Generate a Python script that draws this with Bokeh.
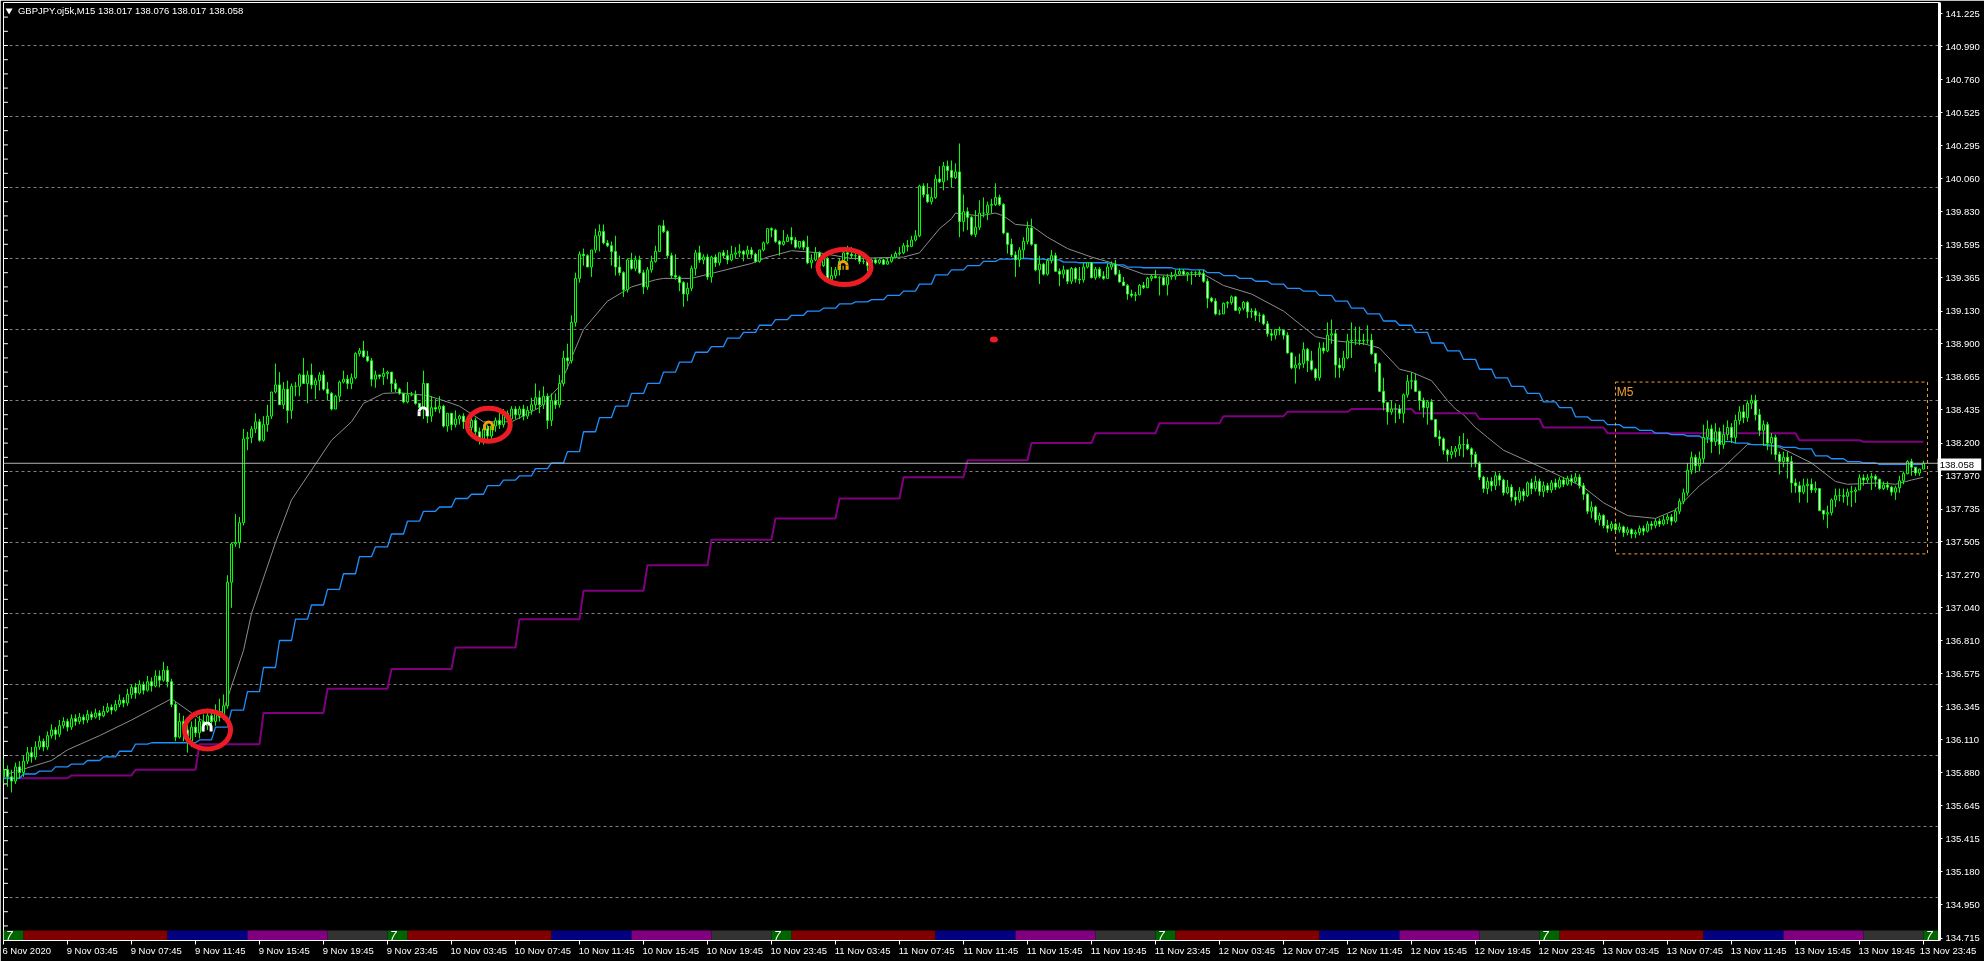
from bokeh.embed import file_html
from bokeh.resources import INLINE
from bokeh.layouts import column
from bokeh.plotting import figure
from bokeh.models import (ColumnDataSource, FixedTicker, Label, LinearAxis,
                          NumeralTickFormatter, Range1d, Span)
from bokeh.core.properties import value

closes = [
135.90,135.85,135.82,135.92,135.88,135.96,136.02,135.99,136.06,136.10,
136.06,136.14,136.18,136.15,136.21,136.24,136.20,136.26,136.24,136.27,
136.25,136.29,136.27,136.30,136.28,136.31,136.34,136.32,136.36,136.39,
136.37,136.43,136.48,136.44,136.50,136.46,136.52,136.49,136.56,136.53,
136.60,136.52,136.36,136.13,136.24,136.18,136.10,136.20,136.16,136.24,
136.21,136.28,136.24,136.31,136.27,136.35,137.22,137.49,137.50,137.64,
138.23,138.24,138.30,138.35,138.22,138.33,138.39,138.56,138.61,138.47,
138.58,138.43,138.60,138.60,138.68,138.62,138.68,138.61,138.64,138.68,
138.58,138.55,138.44,138.53,138.63,138.65,138.62,138.66,138.83,138.85,
138.81,138.78,138.65,138.68,138.67,138.69,138.70,138.62,138.58,138.55,
138.49,138.54,138.54,138.48,138.45,138.62,138.39,138.45,138.44,138.46,
138.32,138.41,138.33,138.37,138.39,138.35,138.31,138.36,138.28,138.23,
138.30,138.25,138.32,138.36,138.33,138.41,138.37,138.44,138.40,138.44,
138.39,138.43,138.47,138.52,138.47,138.53,138.36,138.50,138.47,138.62,
138.80,138.78,139.05,139.36,139.53,139.52,139.44,139.56,139.66,139.69,
139.61,139.59,139.55,139.44,139.40,139.28,139.49,139.43,139.49,139.40,
139.30,139.42,139.48,139.55,139.73,139.69,139.52,139.38,139.37,139.33,
139.25,139.29,139.43,139.54,139.49,139.51,139.37,139.51,139.47,139.54,
139.52,139.49,139.53,139.54,139.55,139.53,139.56,139.53,139.48,139.56,
139.61,139.71,139.70,139.62,139.60,139.62,139.65,139.63,139.58,139.62,
139.58,139.47,139.49,139.54,139.45,139.50,139.35,139.38,139.42,139.48,
139.54,139.53,139.52,139.52,139.48,139.48,139.45,139.49,139.47,139.49,
139.46,139.48,139.51,139.535,139.54,139.59,139.585,139.63,139.66,140.01,
139.95,139.90,139.93,140.06,140.04,140.15,140.12,140.07,140.11,139.76,
139.83,139.79,139.67,139.72,139.82,139.82,139.875,139.88,139.93,139.88,
139.68,139.60,139.525,139.49,139.56,139.62,139.715,139.60,139.42,139.46,
139.39,139.485,139.52,139.41,139.39,139.42,139.34,139.43,139.355,139.35,
139.44,139.47,139.365,139.425,139.375,139.36,139.44,139.46,139.39,139.335,
139.31,139.25,139.24,139.245,139.31,139.295,139.36,139.375,139.365,139.365,
139.315,139.37,139.375,139.39,139.41,139.39,139.40,139.40,139.40,139.395,
139.34,139.22,139.20,139.11,139.11,139.185,139.19,139.23,139.135,139.15,
139.19,139.125,139.13,139.10,139.10,139.04,138.97,138.96,139.00,138.995,
138.96,138.835,138.73,138.75,138.76,138.86,138.78,138.72,138.66,138.87,
138.85,138.96,138.97,138.75,138.73,138.80,138.92,138.925,138.925,138.92,
138.925,138.925,138.83,138.76,138.565,138.485,138.42,138.44,138.44,138.41,
138.54,138.635,138.64,138.565,138.50,138.45,138.49,138.366,138.245,138.23,
138.15,138.12,138.14,138.16,138.19,138.19,138.16,138.12,138.06,137.96,
137.88,137.93,137.90,137.97,137.94,137.85,137.89,137.82,137.80,137.86,
137.83,137.92,137.88,137.93,137.86,137.90,137.87,137.92,137.89,137.94,
137.91,137.95,137.93,137.96,137.90,137.84,137.72,137.75,137.66,137.69,
137.62,137.60,137.63,137.59,137.61,137.57,137.59,137.56,137.57,137.60,
137.58,137.63,137.62,137.65,137.63,137.66,137.68,137.65,137.72,137.79,
137.85,138.01,138.10,138.04,138.09,138.24,138.30,138.21,138.28,138.19,
138.26,138.31,138.24,138.36,138.42,138.38,138.48,138.50,138.40,138.29,
138.33,138.20,138.24,138.12,138.07,138.10,138.07,137.92,137.90,137.855,
137.90,137.91,137.87,137.88,137.725,137.70,137.71,137.80,137.83,137.83,
137.825,137.855,137.86,137.87,137.955,137.94,137.955,137.965,137.945,137.88,
137.905,137.89,137.855,137.885,137.935,137.985,138.07,138.03,137.99,138.017,138.058,
]
highs = [
135.98,135.93,135.90,135.95,135.96,136.00,136.06,136.06,136.10,136.14,
136.12,136.17,136.22,136.20,136.25,136.27,136.26,136.29,136.29,136.30,
136.29,136.32,136.31,136.33,136.32,136.35,136.37,136.36,136.39,136.43,
136.41,136.47,136.50,136.51,136.53,136.52,136.56,136.55,136.60,136.60,
136.66,136.63,136.54,136.38,136.30,136.28,136.22,136.24,136.26,136.28,
136.29,136.33,136.31,136.36,136.40,136.43,137.27,137.50,137.70,137.68,
138.30,138.28,138.32,138.41,138.37,138.39,138.47,138.56,138.76,138.70,
138.63,138.64,138.62,138.63,138.69,138.80,138.71,138.76,138.66,138.70,
138.71,138.63,138.56,138.54,138.64,138.71,138.68,138.69,138.84,138.87,
138.92,138.85,138.80,138.71,138.68,138.73,138.71,138.68,138.65,138.59,
138.55,138.63,138.56,138.57,138.48,138.71,138.62,138.53,138.51,138.53,
138.47,138.41,138.41,138.43,138.40,138.41,138.38,138.39,138.38,138.31,
138.33,138.33,138.35,138.38,138.42,138.44,138.43,138.46,138.46,138.46,
138.47,138.46,138.52,138.62,138.57,138.60,138.55,138.55,138.55,138.68,
138.85,138.90,139.10,139.40,139.55,139.57,139.53,139.56,139.71,139.74,
139.74,139.63,139.62,139.66,139.52,139.41,139.50,139.54,139.52,139.52,
139.42,139.44,139.52,139.59,139.73,139.77,139.70,139.54,139.53,139.38,
139.34,139.33,139.45,139.56,139.59,139.53,139.53,139.52,139.53,139.54,
139.56,139.56,139.59,139.58,139.60,139.56,139.59,139.58,139.54,139.56,
139.62,139.71,139.72,139.71,139.63,139.70,139.67,139.72,139.65,139.62,
139.63,139.66,139.53,139.58,139.55,139.53,139.51,139.44,139.44,139.50,
139.58,139.59,139.58,139.56,139.56,139.50,139.49,139.50,139.50,139.50,
139.50,139.50,139.53,139.55,139.58,139.61,139.63,139.66,139.70,140.02,
140.03,140.03,140.00,140.09,140.15,140.18,140.19,140.19,140.17,140.31,
139.95,139.86,139.80,139.84,139.91,139.93,139.90,139.92,140.03,139.95,
139.89,139.68,139.64,139.55,139.58,139.65,139.76,139.78,139.60,139.52,
139.47,139.50,139.56,139.54,139.43,139.45,139.42,139.44,139.44,139.44,
139.47,139.475,139.47,139.44,139.44,139.41,139.465,139.48,139.49,139.42,
139.37,139.32,139.28,139.265,139.32,139.335,139.37,139.39,139.42,139.375,
139.38,139.39,139.405,139.42,139.43,139.425,139.405,139.41,139.41,139.42,
139.42,139.36,139.23,139.22,139.14,139.19,139.20,139.24,139.235,139.16,
139.20,139.20,139.15,139.15,139.12,139.11,139.06,139.00,139.00,139.02,
139.00,138.98,138.84,138.81,138.83,138.91,138.87,138.85,138.73,138.91,
138.91,139.05,139.07,139.00,138.80,138.85,138.97,139.05,139.02,139.02,
138.97,139.03,138.97,138.83,138.77,138.66,138.48,138.50,138.48,138.47,
138.55,138.68,138.70,138.69,138.57,138.52,138.50,138.51,138.37,138.29,
138.24,138.16,138.18,138.18,138.25,138.27,138.23,138.17,138.14,138.07,
137.97,137.96,137.96,138.00,137.99,137.95,137.94,137.91,137.86,137.89,
137.88,137.93,137.95,137.97,137.95,137.93,137.92,137.94,137.95,137.96,
137.96,137.97,137.98,137.99,137.98,137.92,137.85,137.79,137.76,137.71,
137.70,137.66,137.65,137.64,137.64,137.62,137.61,137.60,137.59,137.62,
137.62,137.65,137.65,137.67,137.67,137.69,137.70,137.70,137.74,137.81,
137.88,138.06,138.14,138.12,138.14,138.33,138.36,138.33,138.34,138.31,
138.33,138.36,138.34,138.40,138.46,138.47,138.50,138.54,138.54,138.44,
138.36,138.35,138.27,138.26,138.14,138.14,138.14,138.11,137.95,137.93,
137.95,137.95,137.95,137.93,137.88,137.73,137.76,137.81,137.88,137.88,
137.88,137.88,137.90,137.89,137.98,137.98,137.98,137.99,137.98,137.95,
137.93,137.93,137.90,137.90,137.97,138.00,138.08,138.09,138.03,138.02,138.076,
]
lows = [
135.80,135.78,135.74,135.80,135.84,135.85,135.94,135.95,135.97,136.04,
136.03,136.04,136.12,136.11,136.13,136.19,136.17,136.18,136.21,136.22,
136.22,136.23,136.25,136.26,136.25,136.27,136.30,136.29,136.31,136.34,
136.34,136.35,136.40,136.40,136.43,136.43,136.45,136.45,136.48,136.48,
136.52,136.48,136.34,136.10,136.12,136.10,136.02,136.06,136.13,136.12,
136.17,136.18,136.20,136.21,136.24,136.25,136.33,137.04,137.47,137.46,
137.62,138.15,138.20,138.27,138.21,138.21,138.28,138.37,138.55,138.47,
138.44,138.34,138.37,138.53,138.53,138.62,138.48,138.58,138.51,138.57,
138.57,138.50,138.43,138.44,138.49,138.62,138.58,138.58,138.65,138.81,
138.80,138.77,138.60,138.59,138.65,138.61,138.65,138.56,138.56,138.54,
138.48,138.48,138.53,138.47,138.43,138.37,138.34,138.35,138.42,138.41,
138.31,138.28,138.29,138.31,138.33,138.30,138.27,138.28,138.24,138.19,
138.19,138.22,138.23,138.28,138.30,138.31,138.35,138.35,138.37,138.37,
138.36,138.37,138.40,138.44,138.41,138.44,138.30,138.32,138.44,138.45,
138.60,138.72,138.76,139.02,139.33,139.45,139.44,139.37,139.54,139.55,
139.60,139.58,139.45,139.38,139.38,139.23,139.26,139.42,139.41,139.39,
139.25,139.28,139.40,139.47,139.55,139.68,139.50,139.36,139.35,139.27,
139.16,139.20,139.27,139.38,139.47,139.46,139.35,139.33,139.44,139.45,
139.50,139.46,139.48,139.50,139.51,139.48,139.50,139.50,139.47,139.47,
139.55,139.60,139.65,139.61,139.52,139.59,139.62,139.60,139.57,139.57,
139.56,139.46,139.43,139.48,139.42,139.44,139.33,139.34,139.36,139.38,
139.47,139.48,139.50,139.49,139.46,139.46,139.41,139.44,139.46,139.46,
139.455,139.46,139.47,139.50,139.52,139.53,139.55,139.58,139.62,139.65,
139.93,139.89,139.88,139.92,140.03,139.98,140.05,140.00,140.06,139.65,
139.69,139.70,139.66,139.65,139.70,139.79,139.77,139.82,139.87,139.87,
139.67,139.535,139.51,139.37,139.44,139.50,139.60,139.59,139.41,139.32,
139.38,139.38,139.465,139.41,139.305,139.36,139.32,139.32,139.33,139.32,
139.33,139.43,139.36,139.35,139.36,139.35,139.36,139.42,139.38,139.33,
139.305,139.21,139.225,139.20,139.24,139.285,139.29,139.34,139.36,139.24,
139.31,139.24,139.35,139.35,139.38,139.38,139.34,139.315,139.37,139.37,
139.33,139.15,139.19,139.10,139.10,139.11,139.15,139.175,139.13,139.11,
139.135,139.08,139.08,139.06,139.05,139.03,138.95,138.92,138.93,138.96,
138.93,138.83,138.72,138.62,138.72,138.73,138.70,138.71,138.64,138.64,
138.83,138.84,138.90,138.66,138.66,138.71,138.79,138.80,138.89,138.89,
138.89,138.90,138.82,138.70,138.56,138.43,138.33,138.40,138.34,138.37,
138.34,138.52,138.58,138.56,138.43,138.38,138.33,138.36,138.24,138.18,
138.12,138.07,138.09,138.10,138.11,138.10,138.15,138.03,138.03,137.94,
137.85,137.84,137.86,137.87,137.90,137.83,137.84,137.79,137.76,137.78,
137.79,137.82,137.84,137.86,137.83,137.82,137.85,137.85,137.87,137.88,
137.89,137.90,137.90,137.92,137.88,137.80,137.70,137.67,137.64,137.62,
137.60,137.57,137.58,137.56,137.57,137.54,137.55,137.53,137.53,137.55,
137.55,137.57,137.59,137.60,137.61,137.62,137.63,137.62,137.64,137.70,
137.77,137.83,137.98,137.99,138.00,138.06,138.20,138.13,138.18,138.12,
138.16,138.22,138.20,138.20,138.33,138.34,138.35,138.44,138.36,138.25,
138.18,138.15,138.12,138.08,137.98,138.03,137.95,137.85,137.85,137.78,
137.84,137.78,137.85,137.85,137.72,137.66,137.60,137.69,137.75,137.79,
137.78,137.76,137.75,137.78,137.87,137.90,137.92,137.87,137.89,137.87,
137.87,137.87,137.83,137.80,137.85,137.91,137.98,137.97,137.97,137.97,138.017,
]
first_open = 135.85

# hourly average: one value per 4 bars
blue_steps = [
135.84,135.87,135.89,135.92,135.94,135.965,135.99,136.03,136.08,136.09,
136.09,136.09,136.11,136.20,136.32,136.45,136.62,136.81,136.96,137.06,
137.17,137.28,137.40,137.47,137.56,137.65,137.72,137.75,137.81,137.84,
137.90,137.94,137.97,138.02,138.06,138.14,138.28,138.38,138.46,138.55,
138.62,138.70,138.77,138.84,138.88,138.94,138.98,139.03,139.07,139.10,
139.13,139.15,139.18,139.195,139.21,139.24,139.27,139.32,139.385,139.42,
139.45,139.48,139.495,139.50,139.495,139.49,139.475,139.47,139.47,139.455,
139.44,139.435,139.435,139.425,139.42,139.40,139.38,139.36,139.34,139.32,
139.29,139.27,139.24,139.20,139.15,139.11,139.06,139.03,138.98,138.905,
138.85,138.79,138.72,138.66,138.60,138.55,138.49,138.45,138.385,138.36,
138.33,138.31,138.29,138.27,138.26,138.25,138.23,138.21,138.20,138.19,
138.18,138.17,138.16,138.11,138.09,138.07,138.06,138.05,138.05,138.05,
]
# four-hour average: one value per 16 bars
purple_steps = [
135.84,135.86,135.90,136.08,136.30,136.47,136.61,136.76,136.96,137.16,
137.34,137.52,137.67,137.81,137.96,138.08,138.20,138.27,138.34,138.39,
138.42,138.44,138.41,138.37,138.31,138.27,138.27,138.27,138.22,138.21,
]
ma_bars = [1,12,16,24,32,42,47,51,55,60,62,68,72,82,87,90,95,99,106,111,114,120,127,134,139,145,151,157,
           163,165,172,187,191,197,204,212,225,229,234,237,238,244,248,250,253,257,261,266,272,277,285,293,
           300,305,312,320,324,328,333,340,344,349,352,357,361,363,365,368,371,375,386,395,400,406,413,418,
           424,430,436,441,444,447,452,458,461,469,473,477,480]
ma_values = [135.87,135.965,136.04,136.14,136.25,136.40,136.30,136.22,136.32,136.74,137.0,137.5,137.8,138.22,
             138.35,138.48,138.55,138.555,138.535,138.49,138.46,138.35,138.35,138.45,138.60,139.0,139.2,139.30,
             139.35,139.36,139.36,139.465,139.51,139.555,139.54,139.50,139.51,139.54,139.71,139.78,139.82,139.80,
             139.82,139.80,139.74,139.73,139.65,139.57,139.51,139.47,139.39,139.38,139.39,139.31,139.25,139.13,
             139.04,138.95,138.92,138.90,138.87,138.72,138.70,138.64,138.50,138.44,138.40,138.31,138.24,138.15,
             138.01,137.89,137.78,137.69,137.67,137.73,137.90,138.03,138.19,138.19,138.17,138.13,138.06,137.93,
             137.91,137.92,137.91,137.94,137.96]

price_ticks = [141.225,140.990,140.760,140.525,140.295,140.060,139.830,139.595,139.365,139.130,138.900,
               138.665,138.435,138.200,137.970,137.735,137.505,137.270,137.040,136.810,136.575,136.345,
               136.110,135.880,135.645,135.415,135.180,134.950,134.715]
grid_levels = [141.0,140.5,140.0,139.5,139.0,138.5,138.0,137.5,137.0,136.5,136.0,135.5,135.0]
left_scale = [round(134.8 + 0.1 * n, 1) for n in range(65)]
time_labels = ["6 Nov 2020",
  "9 Nov 03:45","9 Nov 07:45","9 Nov 11:45","9 Nov 15:45","9 Nov 19:45","9 Nov 23:45",
  "10 Nov 03:45","10 Nov 07:45","10 Nov 11:45","10 Nov 15:45","10 Nov 19:45","10 Nov 23:45",
  "11 Nov 03:45","11 Nov 07:45","11 Nov 11:45","11 Nov 15:45","11 Nov 19:45","11 Nov 23:45",
  "12 Nov 03:45","12 Nov 07:45","12 Nov 11:45","12 Nov 15:45","12 Nov 19:45","12 Nov 23:45",
  "13 Nov 03:45","13 Nov 07:45","13 Nov 11:45","13 Nov 15:45","13 Nov 19:45","13 Nov 23:45"]
session_colors = ["#006400", "#800000", "#000080", "#800080", "#333333"]
session_bars = [5, 36, 20, 20, 15]

ring_bars = [51.0, 121.3, 210.25]
ring_prices = [136.18, 138.33, 139.44]
ring_widths = [46, 43, 53]
ring_heights = [38, 33, 35]
white_arrow_bars = [50.9, 104.9]
white_arrow_prices = [136.2, 138.42]
gold_arrow_bars = [121.3, 209.9]
gold_arrow_prices = [138.32, 139.45]
last_price = 138.058

FONT = "Liberation Sans"
n = len(closes)
assert n == len(highs) == len(lows) == 481, (n, len(highs), len(lows))
opens = [first_open] + closes[:-1]
bars = list(range(n))
hi = [max(h, o, c) for h, o, c in zip(highs, opens, closes)]
lo = [min(l, o, c) for l, o, c in zip(lows, opens, closes)]
fills = ["#000000" if c >= o else "#ffffff" for o, c in zip(opens, closes)]
candles = ColumnDataSource(dict(x=bars, o=opens, c=closes, h=hi, l=lo, fill=fills))

x_start, x_end = 0.0, 484.0
y_top = 141.0 + 43 * 0.007042
y_bot = 141.0 - 895 * 0.007042

p = figure(width=1984, height=961, output_backend="svg", toolbar_location=None,
           x_range=Range1d(x_start, x_end), y_range=Range1d(y_bot, y_top),
           x_axis_location=None, y_axis_location=None,
           background_fill_color="#000000", border_fill_color="#000000",
           min_border_left=3, min_border_right=45, min_border_top=2, min_border_bottom=21,
           outline_line_color="#ffffff", outline_line_width=1,
           styles={"position": "fixed", "left": "0px", "top": "0px"})
p.xgrid.visible = False
p.ygrid.ticker = FixedTicker(ticks=grid_levels)
p.ygrid.grid_line_color = "#808080"
p.ygrid.grid_line_dash = "3 3"
p.ygrid.grid_line_width = 1

right = LinearAxis(ticker=FixedTicker(ticks=price_ticks),
                   formatter=NumeralTickFormatter(format="0.000"))
right.axis_line_color = "#ffffff"
right.axis_line_width = 3
right.major_tick_line_color = "#ffffff"
right.major_tick_in = 0
right.major_tick_out = 3
right.minor_tick_line_color = None
right.major_label_text_color = "#ffffff"
right.major_label_text_font = FONT
right.major_label_text_font_size = "9.5px"
right.major_label_standoff = 3
p.add_layout(right, "right")

tick_bars = [16 * k for k in range(len(time_labels))]
bottom = LinearAxis(ticker=FixedTicker(ticks=tick_bars))
bottom.axis_line_color = "#ffffff"
bottom.major_tick_line_color = "#ffffff"
bottom.major_tick_in = 0
bottom.major_tick_out = 4
bottom.minor_tick_line_color = None
bottom.major_label_text_font_size = "0px"
bottom.major_label_text_color = None
bottom.major_label_standoff = 0
p.add_layout(bottom, "below")

# the text axis: each label sits just right of its tick, so its centre is moved by half its width
half_width = {10: 5.8, 11: 6.2, 12: 6.8}
label_bars = [round(b + half_width[len(t)], 1) for b, t in zip(tick_bars, time_labels)]
text_axis = LinearAxis(ticker=FixedTicker(ticks=label_bars[:-1]),
                       major_label_overrides={b: t for b, t in zip(label_bars, time_labels)})
text_axis.axis_line_color = None
text_axis.major_tick_line_color = None
text_axis.minor_tick_line_color = None
text_axis.major_tick_in = 0
text_axis.major_tick_out = 0
text_axis.major_label_text_font = FONT
text_axis.major_label_text_font_size = "9.5px"
text_axis.major_label_text_color = "#ffffff"
text_axis.major_label_standoff = 0
p.add_layout(text_axis, "below")

# session strip along the bottom
lefts, rights, colors = [], [], []
pos = 0
while pos < 484:
    for col, length in zip(session_colors, session_bars):
        lefts.append(pos)
        rights.append(min(pos + length, x_end))
        colors.append(col)
        pos += length
strip_top = 141.0 - 885 * 0.007042
p.quad(left=lefts, right=rights, bottom=y_bot, top=strip_top, fill_color=colors, line_color=None)
p.text(x=[0.6 + 96 * d for d in range(6)], y=[(strip_top + y_bot) / 2] * 6, text=["7"] * 6,
       text_color="#ffffff", text_font=value(FONT), text_font_size="12px",
       text_baseline="middle", text_align="left", text_font_style="italic")

# left-hand scale marks
p.segment(x0=[x_start] * len(left_scale), x1=[x_start + 1.1] * len(left_scale),
          y0=left_scale, y1=left_scale, line_color="#ffffff", line_width=1)

# current price line
p.add_layout(Span(location=last_price, dimension="width", line_color="#b4b4b4", line_width=1))

# moving averages
p.line(ma_bars, ma_values, line_color="#8c8c8c", line_width=1)
blue_line = [blue_steps[max(i - 1, 0) // 4] for i in bars]
purple_line = [purple_steps[max(i - 1, 0) // 16] for i in bars]
p.line(bars, purple_line, line_color="#800080", line_width=2)
p.line(bars, blue_line, line_color="#1e90ff", line_width=1.3)

# candles
p.segment(x0="x", x1="x", y0="l", y1="h", source=candles, line_color="#00ff00", line_width=1)
p.vbar(x="x", width=0.5, bottom="o", top="c", source=candles,
       fill_color="fill", line_color="#00ff00", line_width=1)

# marks
p.ellipse(x=ring_bars, y=ring_prices, width=ring_widths, height=ring_heights,
          width_units="screen", height_units="screen", fill_color=None,
          line_color="#ed1c24", line_width=5)
for xs, ys, col in [(white_arrow_bars, white_arrow_prices, "#ffffff"),
                    (gold_arrow_bars, gold_arrow_prices, "#f0a010")]:
    p.arc(x=xs, y=ys, radius=4, radius_units="screen", start_angle=0, end_angle=3.1416,
          line_color=col, line_width=3)
    for side in (-1.0, 1.0):
        p.segment(x0=[v + side for v in xs], x1=[v + side for v in xs],
                  y0=ys, y1=[v - 0.03 for v in ys], line_color=col, line_width=3)
p.segment(x0=gold_arrow_bars, x1=gold_arrow_bars, y0=gold_arrow_prices,
          y1=[v - 0.03 for v in gold_arrow_prices], line_color="#ffe000", line_width=1)
p.ellipse(x=[247.6], y=[138.93], width=[8], height=[6], width_units="screen", height_units="screen",
          fill_color="#ed1c24", line_color=None)

# M5 box
p.quad(left=[403], right=[481], bottom=[137.42], top=[138.63], fill_color=None,
       line_color="#f0a030", line_width=1, line_dash="3 3")
p.text(x=[403.3], y=[138.56], text=["M5"], text_color="#f0a030", text_font=value(FONT),
       text_font_size="12px", text_baseline="middle")

# header
p.scatter(x=[1.4], y=[141.246], marker="inverted_triangle", size=7, fill_color="#ffffff", line_color=None)
p.add_layout(Label(x=3.6, y=141.246, text="GBPJPY.oj5k,M15  138.017 138.076 138.017 138.058",
                   text_color="#ffffff", text_font=FONT, text_font_size="9.5px",
                   text_baseline="middle"))

# a transparent sheet over the page, for the two texts that lie beyond the chart's frame;
# its frame ends 42px short of the figure's right edge, so the sheet starts 42px in
sheet = figure(width=1984, height=961, output_backend="svg", toolbar_location=None,
               x_range=Range1d(42, 1984), y_range=Range1d(961, 0),
               x_axis_location=None, y_axis_location=None,
               background_fill_color=None, border_fill_color=None, outline_line_color=None,
               min_border_left=0, min_border_right=0, min_border_top=0, min_border_bottom=0,
               styles={"position": "fixed", "left": "42px", "top": "0px"})
sheet.grid.visible = False
sheet.quad(left=[1940], right=[1984], top=[458], bottom=[470], fill_color="#ffffff", line_color=None)
sheet.text(x=[1942], y=[464], text=[f"{last_price:.3f}"], text_color="#000000", text_font=value(FONT),
           text_font_size="9.5px", text_baseline="middle")
sheet.text(x=[1922], y=[949.5], text=[time_labels[-1]], text_color="#ffffff", text_font=value(FONT),
           text_font_size="9.5px", text_baseline="middle")

open("out.html", "w").write(file_html(column(p, sheet), INLINE))
